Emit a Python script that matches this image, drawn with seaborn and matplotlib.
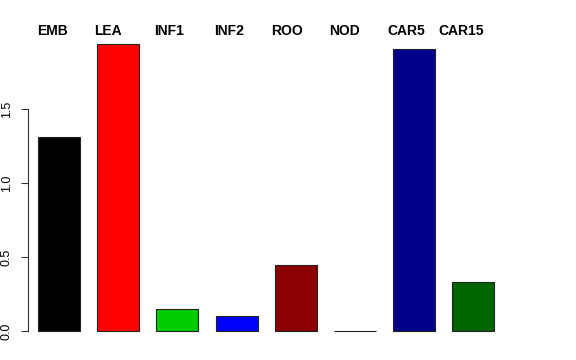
import matplotlib
matplotlib.use("Agg")
import matplotlib.pyplot as plt
import seaborn as sns
import pandas as pd

categories = ["EMB", "LEA", "INF1", "INF2", "ROO", "NOD", "CAR5", "CAR15"]
values = [1.313, 1.944, 0.151, 0.101, 0.446, 0.003, 1.909, 0.334]
colors = ["#000000", "#FF0000", "#00CD00", "#0000FF", "#8B0000", "#A020F0", "#00008B", "#006400"]
yticks = [0.0, 0.5, 1.0, 1.5]
ytick_labels = ["0.0", "0.5", "1.0", "1.5"]
label_px = [52, 108, 169.5, 229, 287, 345, 406, 461.5]

sns.set_style("white")
plt.rcParams["font.family"] = ["Liberation Sans", "DejaVu Sans"]
plt.rcParams["text.color"] = "black"
plt.rcParams["ytick.color"] = "black"

W, H = 576, 360
fig = plt.figure(figsize=(W / 100, H / 100), dpi=100)
left, right, top, bottom = 28, 520, 32, 343
ax = fig.add_axes([left / W, 1 - bottom / H, (right - left) / W, (bottom - top) / H])

df = pd.DataFrame({"cat": categories, "val": values})
sns.barplot(data=df, x="cat", y="val", hue="cat", palette=dict(zip(categories, colors)),
            order=categories, hue_order=categories, legend=False, saturation=1,
            width=0.708, edgecolor="#222222", linewidth=0.8, ax=ax)

ax.set_xlim(-0.524, 7.787)
ax.set_ylim(-0.078, 2.022)
for s in ["top", "right", "bottom"]:
    ax.spines[s].set_visible(False)
ax.spines["left"].set_bounds(0, 1.5)
ax.spines["left"].set_color("#333333")
ax.spines["left"].set_linewidth(0.8)
ax.set_xticks([])
ax.set_xlabel("")
ax.set_ylabel("")
ax.set_yticks(yticks)
ax.set_yticklabels(ytick_labels, rotation=90, va="center", fontsize=9, color="black")
ax.tick_params(axis="y", left=True, length=5, width=0.8, color="#333333", pad=6)

for c, x in zip(categories, label_px):
    fig.text(x / W, 1 - 31 / H, c, ha="center", va="center", fontsize=10,
             fontweight="bold", color="black")

fig.savefig("out.png", dpi=100)
